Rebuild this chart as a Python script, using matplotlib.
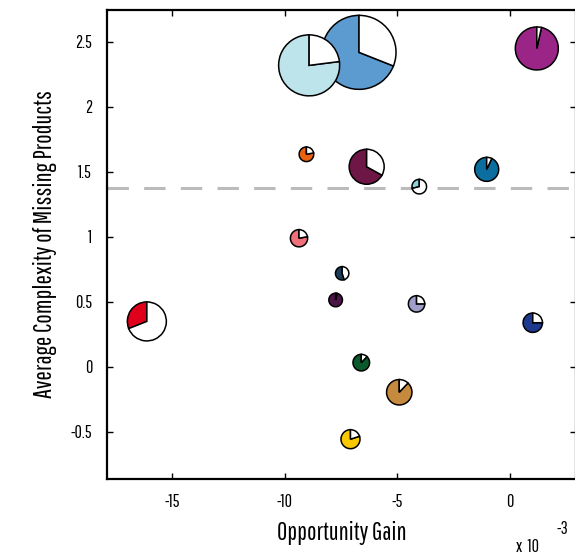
import matplotlib
matplotlib.use("Agg")
import matplotlib.pyplot as plt
import matplotlib.patches as patches
import matplotlib.transforms as transforms

# opportunity gain (x 10^-3), complexity, pie share, bubble radius (px), colour
gain = [-6.70, -8.92, 1.21, -9.04, -6.36, -4.02, -1.02, -16.14,
        -9.37, -7.45, -7.74, -4.14, 1.03, -6.60, -4.91, -7.08]
complexity = [2.42, 2.32, 2.45, 1.636, 1.54, 1.387, 1.52, 0.35,
              0.99, 0.72, 0.515, 0.485, 0.34, 0.033, -0.195, -0.556]
share = [0.69, 0.77, 0.965, 0.78, 0.67, 0.29, 0.93, 0.31,
         0.78, 0.55, 0.97, 0.75, 0.75, 0.88, 0.88, 0.80]
radius = [37, 30.5, 21.5, 7.3, 17.5, 7.3, 12, 19.5,
          8.6, 6.7, 6.8, 8.2, 9.7, 8.3, 12.7, 9.5]
colors = ["#5B9BD0", "#BDE3EB", "#9B2586", "#E8620F", "#6E1645", "#8ED3E0",
          "#0B6E9E", "#E0001B", "#EF6F7A", "#1C3E5C", "#4D1447", "#A09FCC",
          "#1D3A8E", "#0A5A2D", "#C68A3E", "#F8C800"]
threshold = 1.375

x_ticks = [-15, -10, -5, 0]
y_ticks = [-0.5, 0, 0.5, 1, 1.5, 2, 2.5]
y_ticklabels = ["-0.5", "0", "0.5", "1", "1.5", "2", "2.5"]

plt.rcParams["font.family"] = ["Pathway Gothic One", "DejaVu Sans"]

fig = plt.figure(figsize=(5.75, 5.55), dpi=100)
ax = fig.add_axes([0.1866, 0.137, 0.815, 0.845])
ax.set_xlim(-17.9, 2.95)
ax.set_ylim(-0.862, 2.746)

ax.axhline(threshold, color="#BBBBBB", lw=2.2, dashes=(7, 5), zorder=1)

# pie markers, radius in pixels
for x, y, f, r, c in zip(gain, complexity, share, radius, colors):
    trans = fig.dpi_scale_trans + transforms.ScaledTranslation(x, y, ax.transData)
    rr = r / 100
    a = 90 + 360 * f
    ax.add_patch(patches.Wedge((0, 0), rr, 90, a, facecolor=c, edgecolor="black",
                               lw=1.1, transform=trans, zorder=3))
    ax.add_patch(patches.Wedge((0, 0), rr, a, 450, facecolor="white", edgecolor="black",
                               lw=1.1, transform=trans, zorder=3))

ax.set_xticks(x_ticks)
ax.set_xticklabels([str(t) for t in x_ticks])
ax.set_yticks(y_ticks)
ax.set_yticklabels(y_ticklabels)
ax.tick_params(direction="in", length=4, width=1, top=True, right=True,
               labelsize=13, pad=11)
for s in ax.spines.values():
    s.set_linewidth(1.6)

ax.set_xlabel("Opportunity Gain", fontsize=18, labelpad=8)
ax.set_ylabel("Average Complexity of Missing Products", fontsize=18, labelpad=10)

fig.text(0.898, 0.0, "x  10", fontsize=13, ha="left", va="bottom")
fig.text(0.968, 0.033, "-3", fontsize=13, ha="left", va="bottom")

fig.savefig("out.png", dpi=100)
